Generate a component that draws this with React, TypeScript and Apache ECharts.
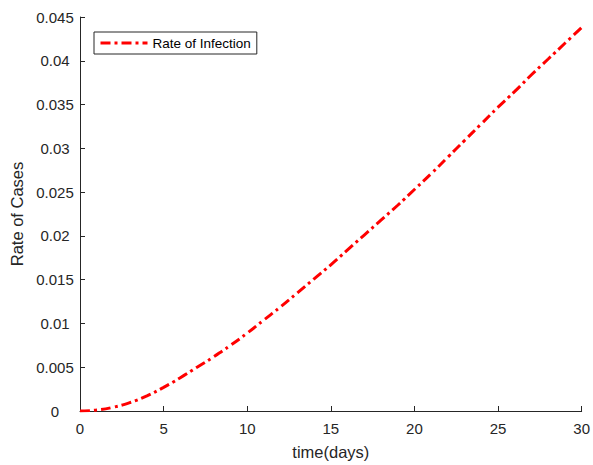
import React, { useEffect, useRef } from "react";
import * as echarts from "echarts";

const days: number[] = [
  0, 1, 2, 3, 4, 5, 6, 7, 8, 9, 10, 11, 12, 13, 14, 15,
  16, 17, 18, 19, 20, 21, 22, 23, 24, 25, 26, 27, 28, 29, 30,
];
const infectionRate: number[] = [
  0, 0.00011, 0.00043, 0.00097, 0.00173, 0.0027, 0.0038, 0.005, 0.0062, 0.0075,
  0.0089, 0.0104, 0.0119, 0.0135, 0.0151, 0.0167, 0.0184, 0.0201, 0.0218, 0.0235,
  0.0253, 0.0271, 0.029, 0.0309, 0.0328, 0.0347, 0.0365, 0.0384, 0.0402, 0.042,
  0.0438,
];
const seriesName = "Rate of Infection";
const xTitle = "time(days)";
const yTitle = "Rate of Cases";

const FONT = "Liberation Sans, Arial, Helvetica, sans-serif";
const AXIS_COLOR = "#262626";

export default function App() {
  const ref = useRef<HTMLDivElement>(null);
  useEffect(() => {
    if (!ref.current) return;
    const chart = echarts.init(ref.current, undefined, { renderer: "svg" });
    chart.setOption({
      animation: false,
      backgroundColor: "#ffffff",
      textStyle: { fontFamily: FONT },
      grid: { left: 78, right: 7, top: 17, bottom: 49, containLabel: false },
      legend: {
        show: true,
        left: 94,
        top: 32,
        orient: "vertical",
        backgroundColor: "#ffffff",
        borderColor: AXIS_COLOR,
        borderWidth: 1,
        borderRadius: 0,
        padding: [4, 6, 4, 5],
        itemWidth: 47,
        itemHeight: 14,
        itemStyle: { color: "rgba(0,0,0,0)", borderColor: "rgba(0,0,0,0)", borderWidth: 0, opacity: 0 },
        lineStyle: { color: "#ff0000", width: 3, type: [10, 4, 3, 4] },
        textStyle: { fontFamily: FONT, fontSize: 13.5, color: "#000000" },
        data: [seriesName],
      },
      xAxis: {
        type: "value",
        min: 0,
        max: 30,
        interval: 5,
        name: xTitle,
        nameLocation: "middle",
        nameGap: 32,
        nameTextStyle: { fontFamily: FONT, fontSize: 16.5, color: AXIS_COLOR },
        axisLine: { show: true, onZero: false, lineStyle: { color: AXIS_COLOR, width: 1 } },
        axisTick: { show: true, inside: true, length: 5, lineStyle: { color: AXIS_COLOR } },
        axisLabel: { fontFamily: FONT, fontSize: 15, color: AXIS_COLOR, margin: 10 },
        splitLine: { show: false },
      },
      yAxis: {
        type: "value",
        min: 0,
        max: 0.045,
        interval: 0.005,
        name: yTitle,
        nameLocation: "middle",
        nameRotate: 90,
        nameGap: 55,
        nameTextStyle: { fontFamily: FONT, fontSize: 16.5, color: AXIS_COLOR },
        axisLine: { show: true, onZero: false, lineStyle: { color: AXIS_COLOR, width: 1 } },
        axisTick: { show: true, inside: true, length: 5, lineStyle: { color: AXIS_COLOR } },
        axisLabel: {
          fontFamily: FONT,
          fontSize: 15,
          color: AXIS_COLOR,
          margin: 25,
          align: "center",
          formatter: (v: number) => String(parseFloat(v.toFixed(4))),
        },
        splitLine: { show: false },
      },
      series: [
        {
          name: seriesName,
          type: "line",
          data: days.map((d, i) => [d, infectionRate[i]]),
          showSymbol: false,
          symbol: "none",
          smooth: true,
          lineStyle: { color: "#ff0000", width: 3, type: [10, 4, 3, 4] },
          itemStyle: { color: "#ff0000" },
        },
      ],
    });
    return () => chart.dispose();
  }, []);
  return <div ref={ref} style={{ width: 593, height: 465, position: "absolute", left: 0, top: 0 }} />;
}
